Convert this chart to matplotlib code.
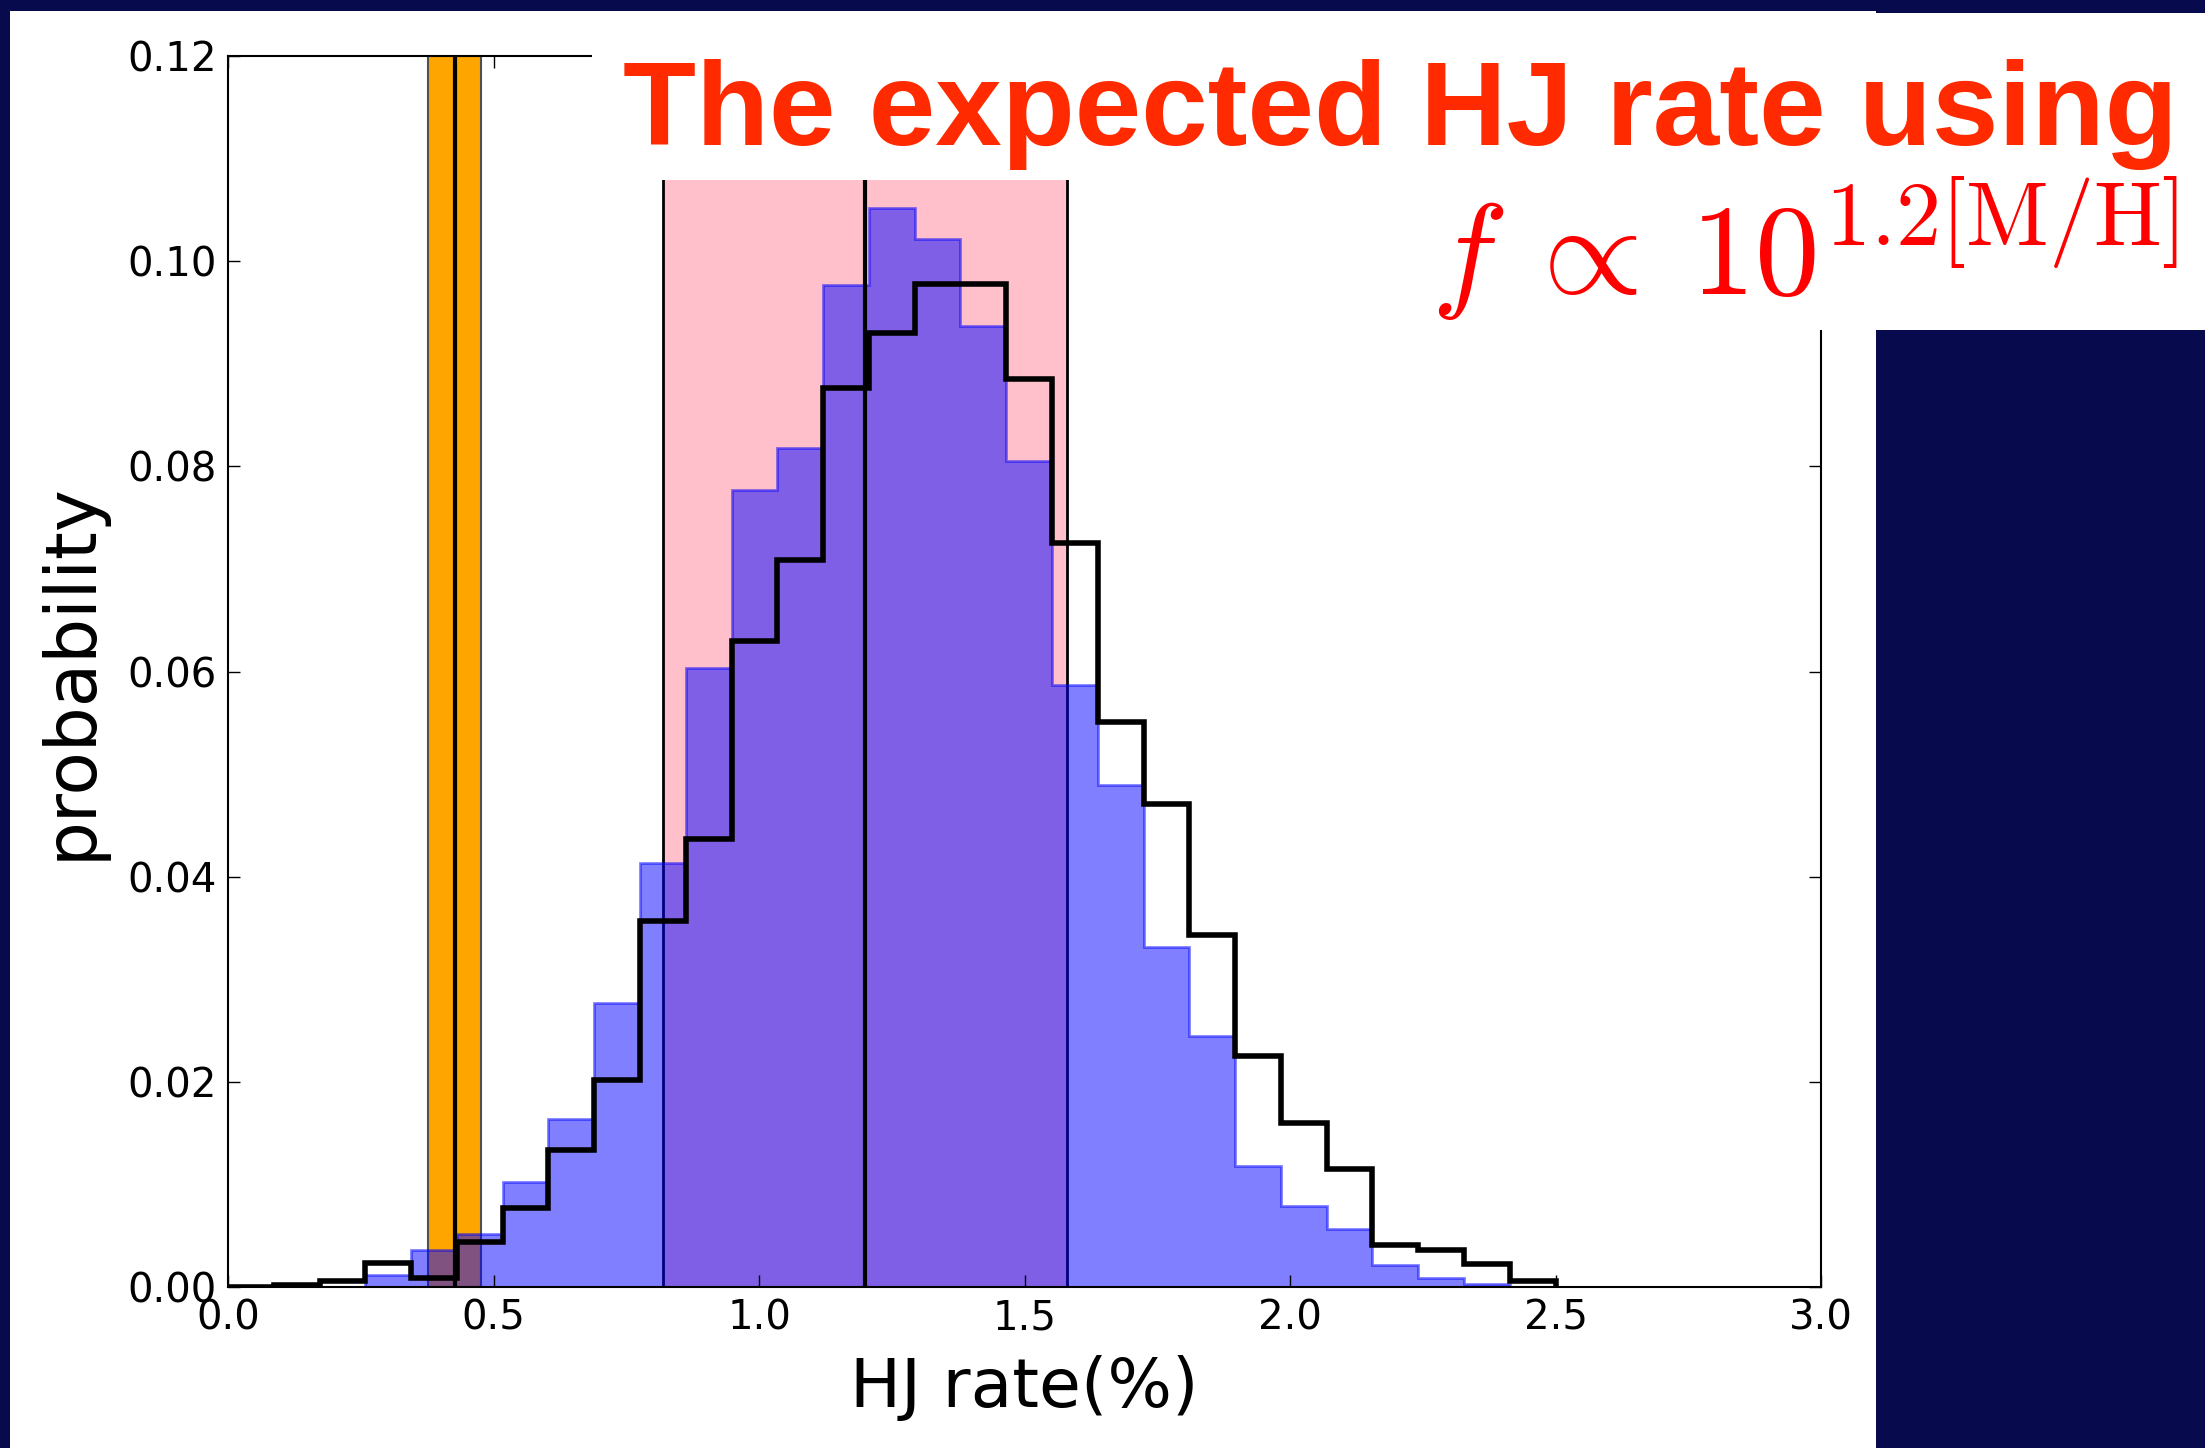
import numpy as np
import matplotlib.pyplot as plt
from matplotlib.patches import Rectangle
from matplotlib.ticker import FormatStrFormatter

# histogram bins, HJ rate (%)
bin_min, bin_max, n_bins = 0.0, 2.5, 29

# filled (blue) histogram, probability per bin
prob_blue = [0.0, 0.0, 0.0, 0.0012, 0.0036, 0.0052, 0.0102, 0.0164, 0.0277,
             0.0413, 0.0603, 0.0777, 0.0818, 0.0977, 0.1052, 0.1022, 0.0937,
             0.0805, 0.0587, 0.0489, 0.0331, 0.0245, 0.0118, 0.0079, 0.0057,
             0.0021, 0.0009, 0.0003, 0.0]

# outline (black) histogram, probability per bin
prob_black = [0.0, 0.0002, 0.0006, 0.0023, 0.0009, 0.0044, 0.0077, 0.0134,
              0.0202, 0.0357, 0.0437, 0.0630, 0.0709, 0.0876, 0.0930, 0.0978,
              0.0978, 0.0885, 0.0725, 0.0551, 0.0471, 0.0343, 0.0225, 0.0160,
              0.0115, 0.0041, 0.0036, 0.0022, 0.0006]

# shaded intervals and their central values
pink_range = (0.82, 1.58)
pink_mid = 1.2
orange_range = (0.377, 0.477)
orange_mid = 0.427

x_ticks = [0.0, 0.5, 1.0, 1.5, 2.0, 2.5, 3.0]
y_ticks = [0.00, 0.02, 0.04, 0.06, 0.08, 0.10, 0.12]

navy = "#070b4e"
plt.rcParams["mathtext.fontset"] = "cm"

fig = plt.figure(figsize=(22.05, 14.48), dpi=100, facecolor=navy)

# white slide panel behind the plot
fig.add_artist(Rectangle((0.0045, 0.0), 0.8463, 0.9924, transform=fig.transFigure,
                         facecolor="white", edgecolor="none", zorder=-1))

ax = fig.add_axes([0.1034, 0.1112, 0.7225, 0.8501])
edges = np.linspace(bin_min, bin_max, n_bins + 1)

ax.axvspan(*pink_range, facecolor="pink", edgecolor="k", lw=2)
ax.axvspan(*orange_range, facecolor="orange", edgecolor="#505050", lw=1.5)
ax.stairs(prob_blue, edges, fill=True, facecolor="blue", edgecolor="blue",
          lw=2, alpha=0.5)
ax.stairs(prob_black, edges, color="k", lw=4)
ax.axvline(pink_mid, color="k", lw=3)
ax.axvline(orange_mid, color="k", lw=3)

ax.set_xlim(0, 3.0)
ax.set_ylim(0, 0.12)
ax.set_xticks(x_ticks)
ax.set_yticks(y_ticks)
ax.xaxis.set_major_formatter(FormatStrFormatter("%.1f"))
ax.yaxis.set_major_formatter(FormatStrFormatter("%.2f"))
ax.tick_params(direction="in", length=8.5, width=1, labelsize=29,
               top=True, right=True, pad=8)
for s in ax.spines.values():
    s.set_linewidth(1.5)

ax.set_xlabel("HJ rate(%)", fontsize=49, labelpad=12)
ax.set_ylabel("probability", fontsize=51, labelpad=16)

# white boxes of the slide title, covering the top of the plot
fig.add_artist(Rectangle((0.2685, 0.8757), 0.7315, 0.1153, transform=fig.transFigure,
                         facecolor="white", edgecolor="none", zorder=2))
fig.add_artist(Rectangle((0.6376, 0.7721), 0.3624, 0.1036, transform=fig.transFigure,
                         facecolor="white", edgecolor="none", zorder=2))

fig.text(0.2825, 0.8999, "The expected HJ rate using", fontsize=86,
         fontweight="bold", family="Liberation Sans", color="#ff2a00",
         va="baseline", zorder=3)
fig.text(0.9875, 0.7963, r"$f\:\propto\:10^{1.2[\mathrm{M/H}]}$", fontsize=93,
         color="red", ha="right", va="baseline", zorder=3)

fig.savefig("out.png", dpi=100, facecolor=navy)
